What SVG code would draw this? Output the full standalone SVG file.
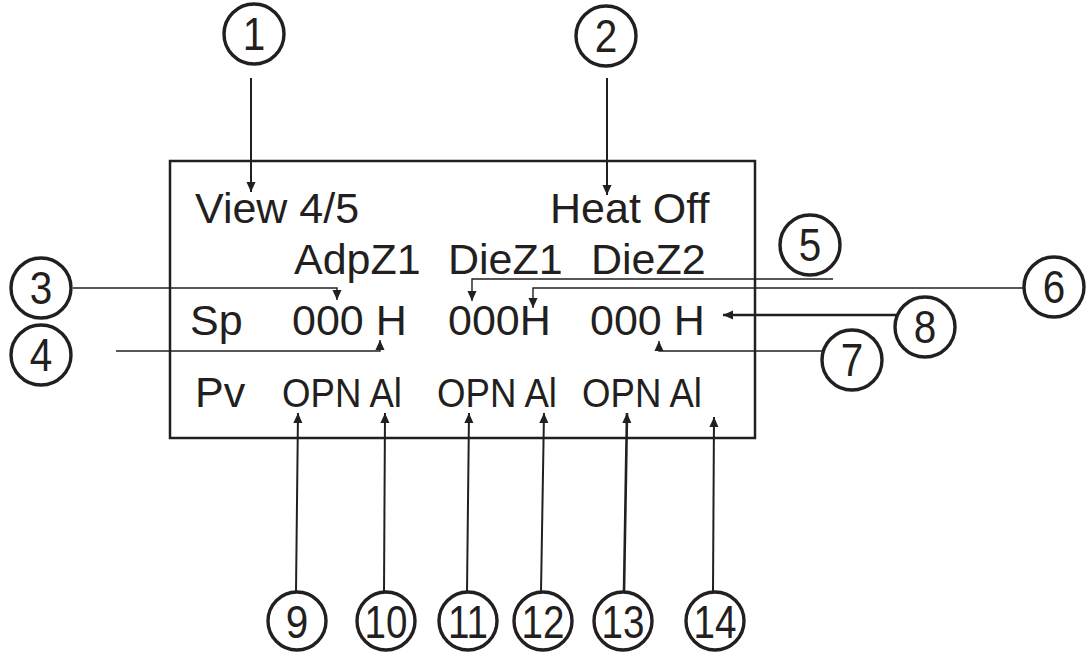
<svg xmlns="http://www.w3.org/2000/svg" width="1087" height="652" viewBox="0 0 1087 652">
<style>
.t{font-family:"Liberation Sans",Arial,sans-serif;font-size:43px;fill:#231f20}
.s{font-family:"Liberation Sans",Arial,sans-serif;font-size:40px;fill:#231f20}
.n{font-family:"Liberation Sans",Arial,sans-serif;font-size:46px;fill:#231f20;text-anchor:middle}
.c{fill:#fff;stroke:#231f20;stroke-width:3.4}
.l{fill:none;stroke:#231f20;stroke-width:1.4}
.lt{fill:none;stroke:#231f20;stroke-width:2}
.lb{fill:none;stroke:#231f20;stroke-width:2.6}
</style>
<defs>
<marker id="ah" markerUnits="userSpaceOnUse" markerWidth="10" markerHeight="11" viewBox="0 0 11 10" refX="11" refY="5" orient="auto">
<path d="M0,0 L11,5 L0,10 z" fill="#231f20"/>
</marker>
</defs>
<rect width="1087" height="652" fill="#fff"/>
<g id="display">
<rect x="170" y="161" width="585" height="277" fill="none" stroke="#231f20" stroke-width="2.5"/>
<text class="t" x="195" y="223">View 4/5</text>
<text class="t" x="550" y="223">Heat Off</text>
<text class="t" x="294" y="274">AdpZ1</text>
<text class="t" x="448" y="274">DieZ1</text>
<text class="t" x="591" y="274">DieZ2</text>
<text class="t" x="190" y="335">Sp</text>
<text class="t" x="292" y="335">000 H</text>
<text class="t" x="448" y="335">000H</text>
<text class="t" x="590" y="335">000 H</text>
<text class="t" x="195" y="407">Pv</text>
<text class="s" x="282" y="407" textLength="120" lengthAdjust="spacingAndGlyphs">OPN Al</text>
<text class="s" x="437" y="407" textLength="120" lengthAdjust="spacingAndGlyphs">OPN Al</text>
<text class="s" x="582" y="407" textLength="120" lengthAdjust="spacingAndGlyphs">OPN Al</text>
</g>
<g id="connectors">
<path class="lt" d="M251,78 V192" marker-end="url(#ah)"/>
<path class="lt" d="M607,78 V195" marker-end="url(#ah)"/>
<path class="l" d="M73,288 H337 V300" marker-end="url(#ah)"/>
<path class="l" d="M116,351 H380 V340" marker-end="url(#ah)"/>
<path class="l" d="M833,279 H472 V301" marker-end="url(#ah)"/>
<path class="l" d="M1024,288 H533 V308" marker-end="url(#ah)"/>
<path class="l" d="M822,351 H659 V341" marker-end="url(#ah)"/>
<path class="lb" d="M897,315 H723" marker-end="url(#ah)"/>
<path class="lt" d="M296,592 L298,413" marker-end="url(#ah)"/>
<path class="lt" d="M384,592 L385,413" marker-end="url(#ah)"/>
<path class="lt" d="M467,592 L469,413" marker-end="url(#ah)"/>
<path class="lt" d="M541,592 L544,413" marker-end="url(#ah)"/>
<path class="lb" d="M624,592 L627,413" marker-end="url(#ah)"/>
<path class="lt" d="M713,592 L714,417" marker-end="url(#ah)"/>
</g>
<g id="c1"><circle class="c" cx="254" cy="34" r="30"/><text class="n" transform="translate(254,50) scale(0.88,1)">1</text></g>
<g id="c2"><circle class="c" cx="606" cy="36" r="30"/><text class="n" transform="translate(606,52) scale(0.88,1)">2</text></g>
<g id="c3"><circle class="c" cx="41" cy="288" r="30"/><text class="n" transform="translate(41,304) scale(0.88,1)">3</text></g>
<g id="c4"><circle class="c" cx="41" cy="355" r="30"/><text class="n" transform="translate(41,371) scale(0.88,1)">4</text></g>
<g id="c5"><circle class="c" cx="810" cy="245" r="30"/><text class="n" transform="translate(810,261) scale(0.88,1)">5</text></g>
<g id="c6"><circle class="c" cx="1054" cy="287" r="30"/><text class="n" transform="translate(1054,303) scale(0.88,1)">6</text></g>
<g id="c7"><circle class="c" cx="852" cy="360" r="30"/><text class="n" transform="translate(852,376) scale(0.88,1)">7</text></g>
<g id="c8"><circle class="c" cx="925" cy="327" r="30"/><text class="n" transform="translate(925,343) scale(0.88,1)">8</text></g>
<g id="c9"><circle class="c" cx="297" cy="621" r="29"/><text class="n" transform="translate(297,638) scale(0.88,1)">9</text></g>
<g id="c10"><circle class="c" cx="386" cy="621" r="29"/><text class="n" transform="translate(386,638) scale(0.84,1)">10</text></g>
<g id="c11"><circle class="c" cx="468" cy="621" r="29"/><text class="n" transform="translate(468,638) scale(0.84,1)">11</text></g>
<g id="c12"><circle class="c" cx="543" cy="621" r="29"/><text class="n" transform="translate(543,638) scale(0.84,1)">12</text></g>
<g id="c13"><circle class="c" cx="623" cy="621" r="29"/><text class="n" transform="translate(623,638) scale(0.84,1)">13</text></g>
<g id="c14"><circle class="c" cx="715" cy="621" r="29"/><text class="n" transform="translate(715,638) scale(0.84,1)">14</text></g>
</svg>
